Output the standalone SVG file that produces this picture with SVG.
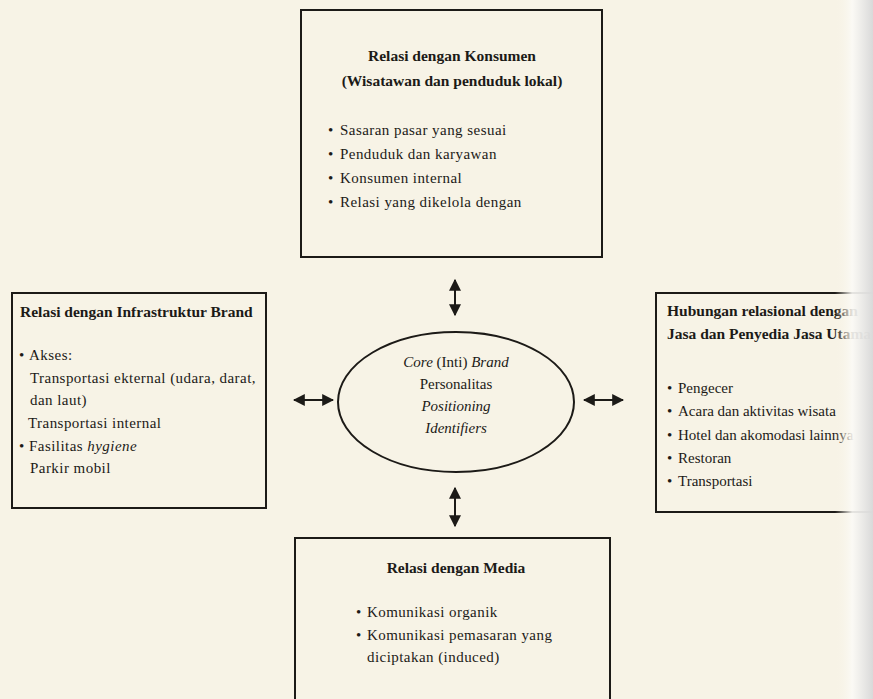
<svg xmlns="http://www.w3.org/2000/svg" width="873" height="699" viewBox="0 0 873 699">
<style>
  text { font-family: "Liberation Serif", "Times New Roman", serif; font-size: 15px; fill: #1c1a17; }
  .t { font-weight: bold; font-size: 15.5px; }
  .i { font-style: italic; }
  .c { text-anchor: middle; }
  .w { letter-spacing: 0.45px; }
  .box { fill: none; stroke: #1c1a17; stroke-width: 2; }
  .con { stroke: #1c1a17; stroke-width: 2; fill: none; marker-start: url(#ah); marker-end: url(#ah); }
</style>
<defs>
  <marker id="ah" viewBox="0 0 10 10" refX="9" refY="5" markerWidth="6" markerHeight="6" orient="auto-start-reverse" markerUnits="strokeWidth">
    <path d="M0,0 L10,5 L0,10 Z" fill="#1c1a17"/>
  </marker>
  <linearGradient id="edge" x1="0" y1="0" x2="1" y2="0">
    <stop offset="0" stop-color="#f7f3e6" stop-opacity="0"/>
    <stop offset="0.45" stop-color="#fbfaf6" stop-opacity="0.9"/>
    <stop offset="1" stop-color="#d9d9d9" stop-opacity="1"/>
  </linearGradient>
</defs>
<rect x="0" y="0" width="873" height="699" fill="#f7f3e6"/>

<g id="node-konsumen">
  <rect class="box" x="301" y="10" width="301" height="247"/>
  <text class="t c" x="452" y="61">Relasi dengan Konsumen</text>
  <text class="t c" x="452" y="86">(Wisatawan dan penduduk lokal)</text>
  <text x="328" y="135">•</text><text class="w" x="340" y="135">Sasaran pasar yang sesuai</text>
  <text x="328" y="159">•</text><text class="w" x="340" y="159">Penduduk dan karyawan</text>
  <text x="328" y="183">•</text><text class="w" x="340" y="183">Konsumen internal</text>
  <text x="328" y="207">•</text><text class="w" x="340" y="207">Relasi yang dikelola dengan</text>
</g>

<g id="node-infrastruktur">
  <rect class="box" x="12" y="293" width="254" height="215"/>
  <text class="t" x="20" y="317">Relasi dengan Infrastruktur Brand</text>
  <text x="19" y="360">•</text><text class="w" x="29" y="360">Akses:</text>
  <text class="w" x="30" y="383">Transportasi ekternal (udara, darat,</text>
  <text class="w" x="30" y="405">dan laut)</text>
  <text class="w" x="28" y="428">Transportasi internal</text>
  <text x="19" y="451">•</text><text class="w" x="29" y="451">Fasilitas <tspan class="i">hygiene</tspan></text>
  <text class="w" x="30" y="473">Parkir mobil</text>
</g>

<g id="node-core">
  <ellipse class="box" cx="456" cy="402" rx="118" ry="70"/>
  <text class="c" x="456" y="367"><tspan class="i">Core</tspan> (Inti) <tspan class="i">Brand</tspan></text>
  <text class="c" x="456" y="389">Personalitas</text>
  <text class="c i" x="456" y="411">Positioning</text>
  <text class="c i" x="456" y="433">Identifiers</text>
</g>

<g id="node-jasa">
  <rect class="box" x="656" y="293" width="240" height="219"/>
  <text class="t" x="667" y="316">Hubungan relasional dengan</text>
  <text class="t" x="667" y="339">Jasa dan Penyedia Jasa Utama</text>
  <text x="667" y="393">•</text><text x="678" y="393">Pengecer</text>
  <text x="667" y="416">•</text><text x="678" y="416">Acara dan aktivitas wisata</text>
  <text x="667" y="440">•</text><text x="678" y="440">Hotel dan akomodasi lainnya</text>
  <text x="667" y="463">•</text><text x="678" y="463">Restoran</text>
  <text x="667" y="486">•</text><text x="678" y="486">Transportasi</text>
</g>

<g id="node-media">
  <rect class="box" x="295" y="538" width="315" height="200"/>
  <text class="t c" x="456" y="573">Relasi dengan Media</text>
  <text x="356" y="617">•</text><text class="w" x="367" y="617">Komunikasi organik</text>
  <text x="356" y="640">•</text><text class="w" x="367" y="640">Komunikasi pemasaran yang</text>
  <text class="w" x="367" y="662">diciptakan (induced)</text>
</g>

<g id="connectors">
  <line class="con" x1="455" y1="280" x2="455" y2="315"/>
  <line class="con" x1="455" y1="488" x2="455" y2="526"/>
  <line class="con" x1="294" y1="400" x2="333" y2="400"/>
  <line class="con" x1="584" y1="400" x2="623" y2="400"/>
</g>

<rect x="835" y="0" width="38" height="699" fill="url(#edge)"/>
</svg>
